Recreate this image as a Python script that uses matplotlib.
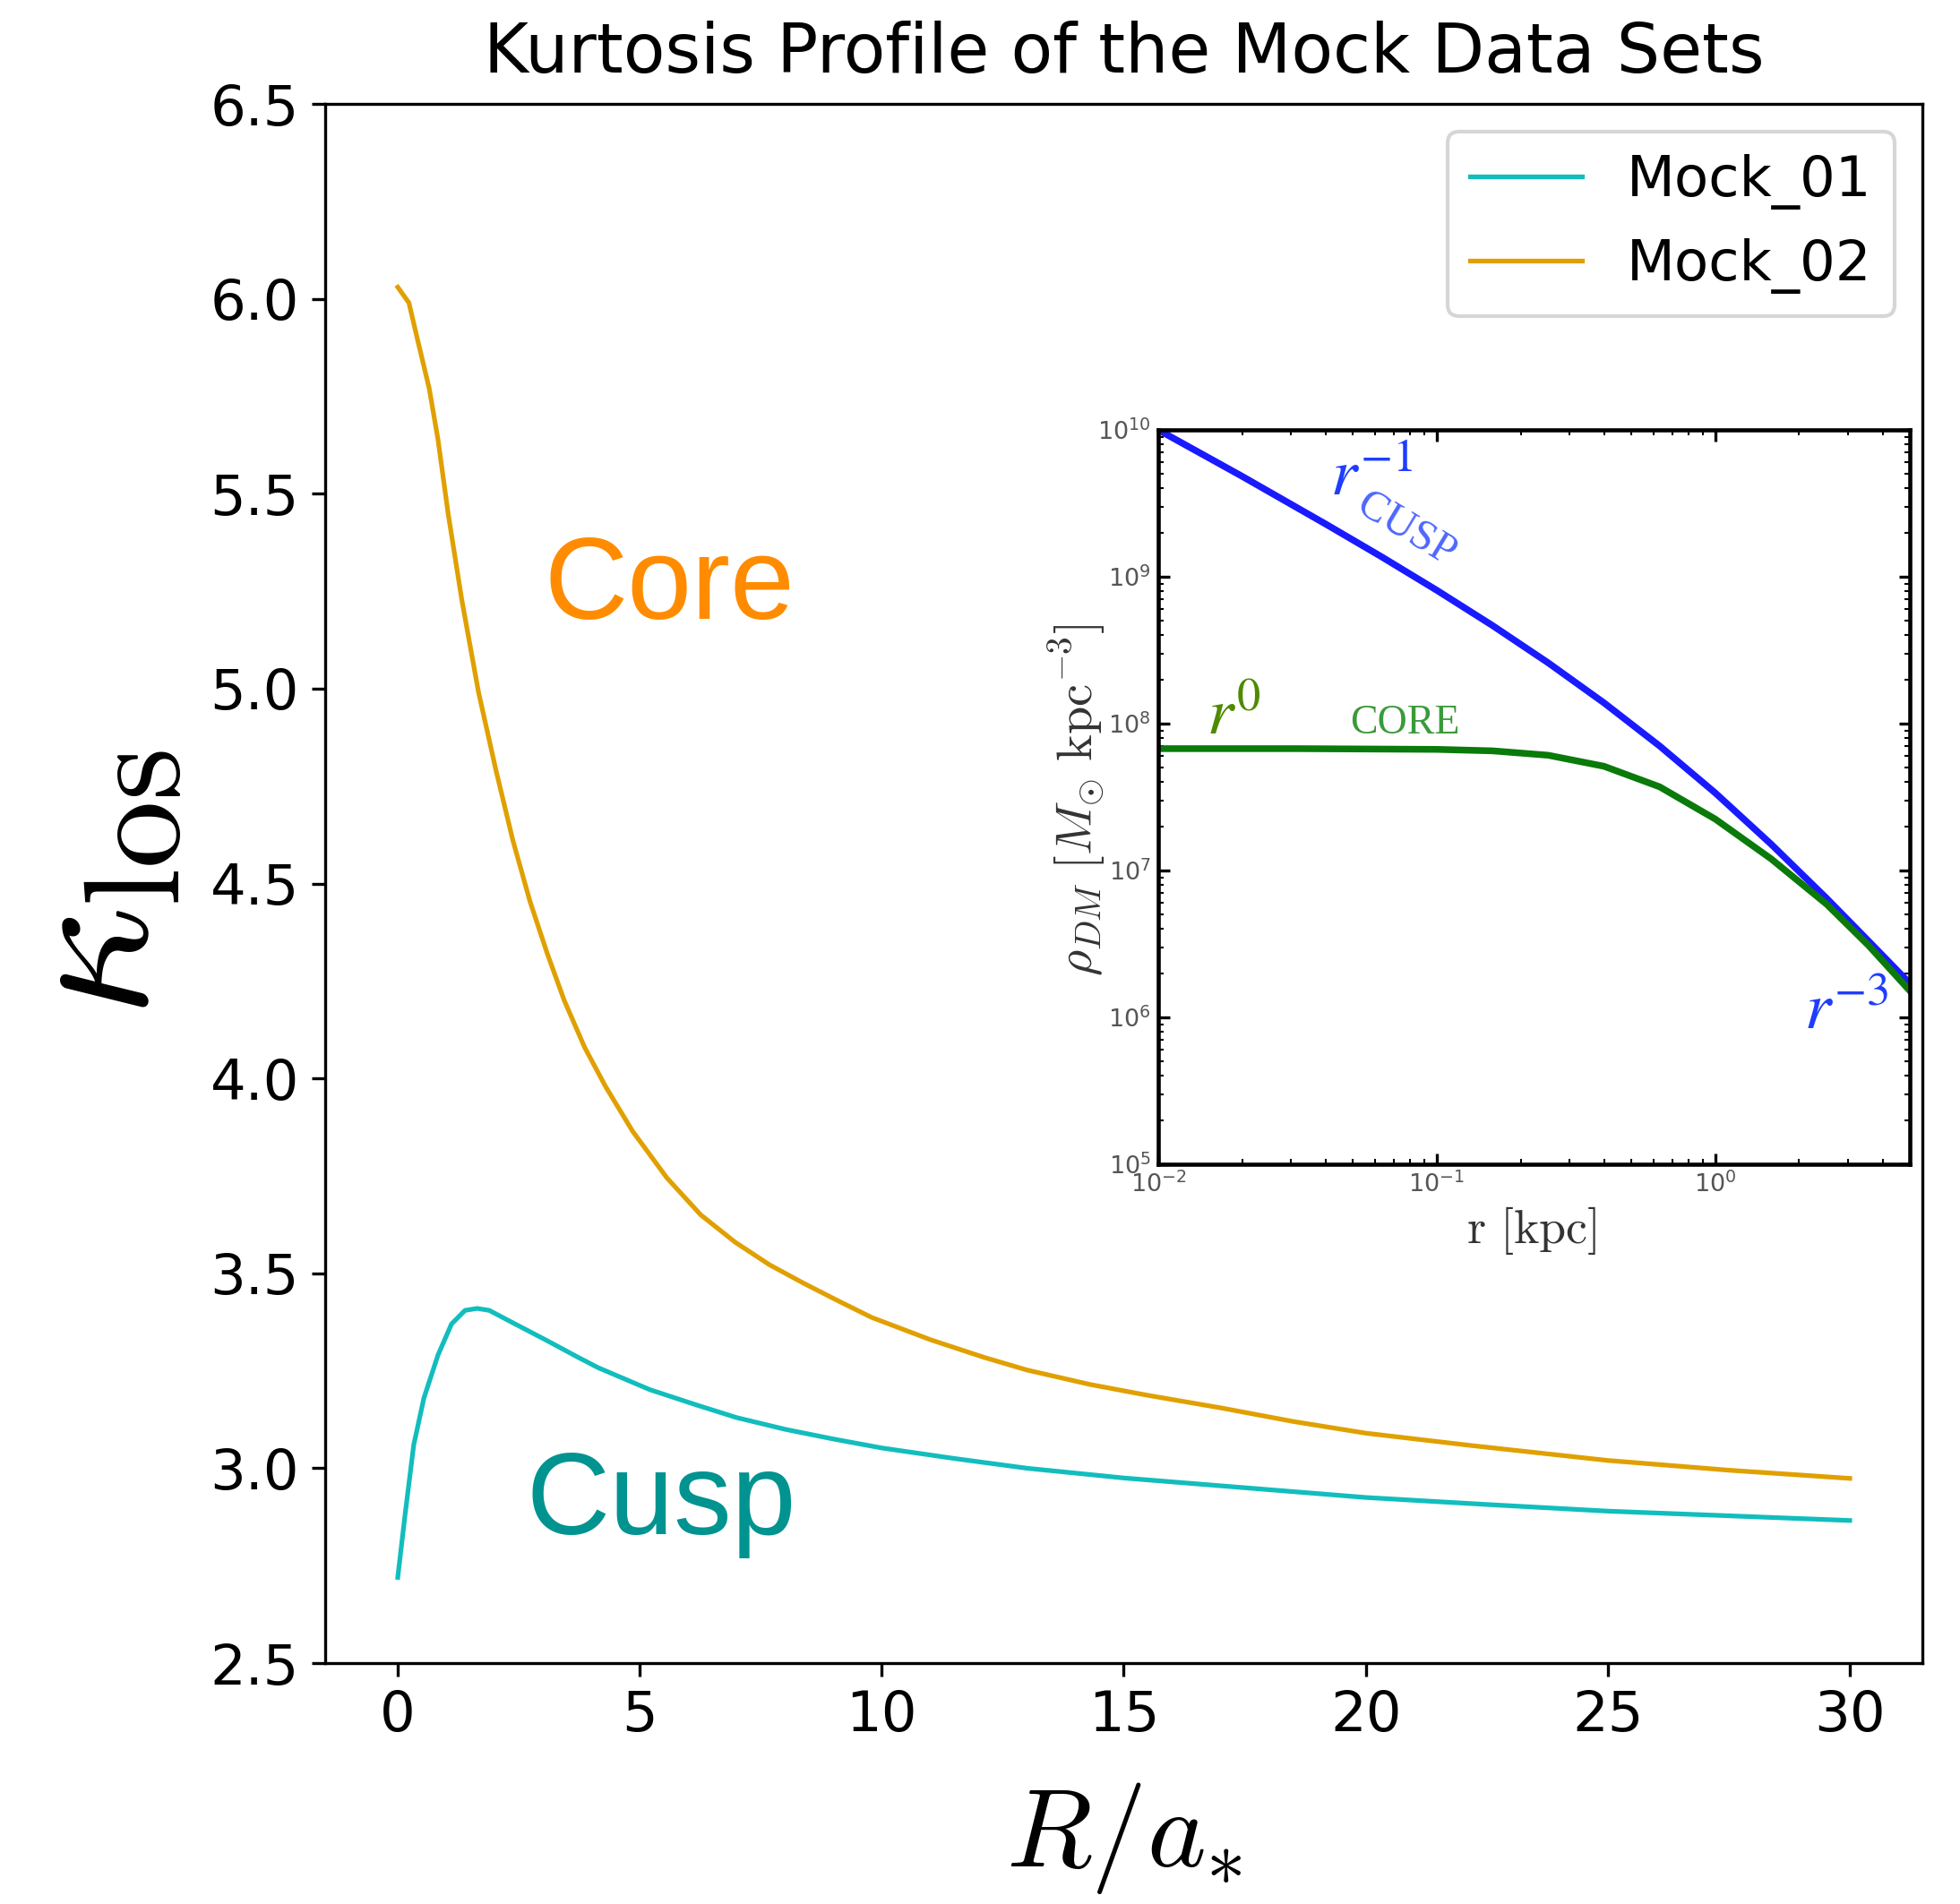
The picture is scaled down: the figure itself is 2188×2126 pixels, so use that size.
import numpy as np
import matplotlib
matplotlib.use("Agg")
import matplotlib.pyplot as plt

plt.rcParams['mathtext.fontset'] = 'cm'

# kurtosis profiles of the two mock sets
r_mock01 = [0, 0.15, 0.33, 0.54, 0.83, 1.11, 1.39, 1.64, 1.89, 2.38, 3.09, 3.72, 4.14,
            5.2, 6.18, 7.0, 8.0, 9.0, 10.0, 11.5, 13.0, 15.0, 17.5, 20.0, 22.5, 25.0,
            27.5, 30.0]
k_mock01 = [2.72, 2.88, 3.06, 3.18, 3.29, 3.37, 3.405, 3.41, 3.405, 3.373, 3.327, 3.285, 3.258,
            3.202, 3.162, 3.13, 3.10, 3.075, 3.052, 3.025, 3.00, 2.975, 2.95, 2.925, 2.907, 2.89,
            2.878, 2.866]

r_mock02 = [0, 0.23, 0.40, 0.65, 0.83, 1.04, 1.32, 1.67, 2.03, 2.38, 2.73, 3.09, 3.44,
            3.86, 4.29, 4.85, 5.56, 6.26, 6.97, 7.68, 8.38, 9.09, 9.79, 11.0, 12.1, 13.0,
            14.3, 15.5, 17.0, 18.5, 20.0, 22.2, 25.0, 27.5, 30.0]
k_mock02 = [6.03, 5.99, 5.90, 5.77, 5.64, 5.45, 5.23, 4.99, 4.79, 4.61, 4.455, 4.32, 4.20,
            4.08, 3.98, 3.865, 3.745, 3.65, 3.58, 3.522, 3.475, 3.43, 3.387, 3.33, 3.285, 3.252,
            3.215, 3.187, 3.155, 3.12, 3.09, 3.058, 3.02, 2.995, 2.974]

# dark matter density profiles (log10 r [kpc], log10 rho)
logr_cusp = [-2.0, -1.7, -1.4, -1.2, -1.0, -0.8, -0.6, -0.4, -0.2, 0.0, 0.2, 0.4, 0.55, 0.699]
logrho_cusp = [10.0, 9.685, 9.36, 9.138, 8.908, 8.668, 8.414, 8.142, 7.848, 7.528, 7.18, 6.81, 6.52, 6.23]

logr_core = [-2.0, -1.5, -1.0, -0.8, -0.6, -0.4, -0.2, 0.0, 0.2, 0.4, 0.55, 0.699]
logrho_core = [7.83, 7.83, 7.825, 7.815, 7.785, 7.71, 7.57, 7.35, 7.08, 6.77, 6.49, 6.18]

fig = plt.figure(figsize=(2188 / 300, 2126 / 300), dpi=300)
ax = fig.add_axes([0.1659, 0.1265, 0.8149, 0.8189])

ax.plot(r_mock01, k_mock01, color='#12bdbd', lw=1.25, label='Mock_01')
ax.plot(r_mock02, k_mock02, color='#e0a000', lw=1.25, label='Mock_02')
ax.set_xlim(-1.5, 31.5)
ax.set_ylim(2.5, 6.5)
ax.set_yticks(np.arange(2.5, 6.51, 0.5))
ax.set_xticks([0, 5, 10, 15, 20, 25, 30])
ax.tick_params(labelsize=15)
ax.set_title('Kurtosis Profile of the Mock Data Sets', fontsize=18.3, pad=8.5)
ax.set_xlabel(r'$R/a_{*}$', fontsize=30, va='center')
ax.xaxis.set_label_coords(0.5, -0.112)
ax.set_ylabel(r'$\kappa_{\rm los}$', fontsize=52, va='center')
ax.yaxis.set_label_coords(-0.145, 0.5)
ax.legend(loc='upper right', fontsize=15)

ax.text(3.03, 5.18, 'Core', color='#ff8c00', fontsize=31, family='Liberation Sans')
ax.text(2.66, 2.83, 'Cusp', color='#009390', fontsize=31, family='Liberation Sans')

# inset: cusp vs core density profiles
axin = fig.add_axes([0.591, 0.3885, 0.3835, 0.3857])
axin.plot(10 ** np.array(logr_cusp), 10 ** np.array(logrho_cusp), color='#1a1aff', lw=1.8)
axin.plot(10 ** np.array(logr_core), 10 ** np.array(logrho_core), color='#0a7a0a', lw=1.8)
axin.set_xscale('log')
axin.set_yscale('log')
axin.set_xlim(1e-2, 5)
axin.set_ylim(1e5, 1e10)
axin.tick_params(which='both', direction='in', top=True, right=True,
                 labelsize=6.5, labelcolor='#555555', pad=2)
axin.tick_params(which='major', length=3, width=0.8)
axin.tick_params(which='minor', length=1.5, width=0.5)
for s in axin.spines.values():
    s.set_linewidth(1.1)
axin.set_xlabel(r'$\mathrm{r}\ [\mathrm{kpc}]$', fontsize=13, color='#333333', va='center')
axin.xaxis.set_label_coords(0.496, -0.09)
axin.set_ylabel(r'$\rho_{DM}\ [M_{\odot}\ \mathrm{kpc}^{-3}]$', fontsize=13.5, color='#333333', va='center')
axin.yaxis.set_label_coords(-0.108, 0.496)

axin.text(10 ** -1.384, 10 ** 9.553, r'$r^{-1}$', color='#1f3dff', fontsize=18, math_fontfamily='stix')
axin.text(10 ** -1.11, 10 ** 9.32, 'CUSP', color='#4d66ff', fontsize=11.5, family='Liberation Serif',
          rotation=-31, ha='center', va='center', rotation_mode='anchor')
axin.text(10 ** -1.826, 10 ** 7.93, r'$r^{0}$', color='#4f8a00', fontsize=18, math_fontfamily='stix')
axin.text(10 ** -1.113, 10 ** 8.0, 'CORE', color='#3a9a3a', fontsize=11, family='Liberation Serif',
          ha='center', va='center')
axin.text(10 ** 0.319, 10 ** 5.92, r'$r^{-3}$', color='#1f3dff', fontsize=18, math_fontfamily='stix')

fig.savefig('out.png', dpi=300)
